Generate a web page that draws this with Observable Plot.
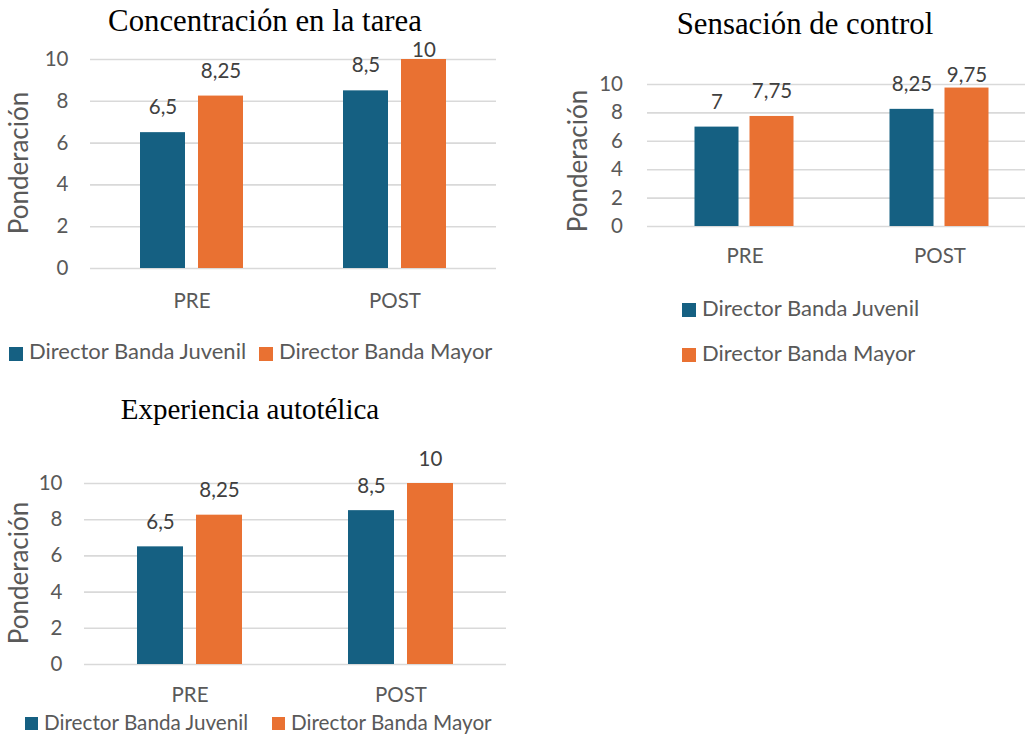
<!DOCTYPE html>
<html>
<head>
<meta charset="utf-8">
<script src="https://cdn.jsdelivr.net/npm/d3@7"></script>
<script src="https://cdn.jsdelivr.net/npm/@observablehq/plot@0.6"></script>
<style>
  html, body { margin: 0; padding: 0; background: #fff; overflow: hidden; }
  #root { position: relative; width: 1025px; height: 735px; overflow: hidden; background: #fff; }
  .t { position: absolute; white-space: nowrap; line-height: 1; }
  .sq { position: absolute; }
  .p { position: absolute; top: 0; }
  .p svg { max-width: none !important; }
</style>
</head>
<body>
<div id="root"></div>
<script>
// ---- data ----
const categories = ["PRE", "POST"];
const series = ["Director Banda Juvenil", "Director Banda Mayor"];
const seriesColors = ["#156082", "#E97132"];
const yTicks = [0, 2, 4, 6, 8, 10];
const yLabel = "Ponderación";

const titleConcentracion = "Concentración en la tarea";
const concentracionJuvenil = [6.5, 8.5];
const concentracionMayor = [8.25, 10];

const titleControl = "Sensación de control";
const controlJuvenil = [7, 8.25];
const controlMayor = [7.75, 9.75];

const titleAutotelica = "Experiencia autotélica";
const autotelicaJuvenil = [6.5, 8.5];
const autotelicaMayor = [8.25, 10];

// ---- helpers ----
const root = document.getElementById("root");
const SANS = "Lato, 'Open Sans', sans-serif";
const SERIF = "'Liberation Serif', 'DejaVu Serif', serif";
const fmt = v => String(v).replace(".", ",");

function addText(txt, x, baseline, size, family, color, anchor, k) {
  const s = document.createElement("span");
  s.className = "t";
  s.textContent = txt;
  s.style.fontSize = size + "px";
  s.style.fontFamily = family;
  s.style.color = color;
  s.style.left = x + "px";
  s.style.top = (baseline - k * size) + "px";
  if (anchor === "middle") s.style.transform = "translateX(-50%)";
  root.appendChild(s);
  return s;
}
function addRotated(txt, cx, cy, size) {
  const s = document.createElement("span");
  s.className = "t";
  s.textContent = txt;
  s.style.fontSize = size + "px";
  s.style.fontFamily = SANS;
  s.style.color = "#595959";
  s.style.left = cx + "px";
  s.style.top = cy + "px";
  s.style.transform = "translate(-50%, -50%) rotate(-90deg)";
  root.appendChild(s);
}
function addSquare(x, y, size, color) {
  const d = document.createElement("div");
  d.className = "sq";
  d.style.left = x + "px";
  d.style.top = y + "px";
  d.style.width = size + "px";
  d.style.height = size + "px";
  d.style.background = color;
  root.appendChild(d);
}

function chart(o) {
  const rows = categories.flatMap((c, i) => [
    {cat: c, ser: series[0], v: o.juv[i]},
    {cat: c, ser: series[1], v: o.may[i]}
  ]);
  const pxPerUnit = (o.height - o.marginTop - o.marginBottom) / 10;
  const svg = Plot.plot({
    width: o.width, height: o.height,
    marginLeft: o.marginLeft, marginRight: o.marginRight,
    marginTop: o.marginTop, marginBottom: o.marginBottom,
    style: {fontFamily: SANS, fontSize: "20.5px", color: "#595959", background: "transparent", overflow: "visible", maxWidth: "none"},
    fx: {domain: categories, padding: 0, axis: "bottom", label: null, tickSize: 0, tickPadding: o.xTickPad},
    x: {domain: series, paddingInner: o.pi, paddingOuter: o.po, axis: null},
    y: {domain: [0, 10], ticks: yTicks, tickSize: 0, tickPadding: o.yTickPad, label: null},
    color: {domain: series, range: seriesColors},
    marks: [
      Plot.ruleY(yTicks, {stroke: "#d9d9d9", strokeWidth: 1.6}),
      Plot.barY(rows, {fx: "cat", x: "ser", y: "v", fill: "ser", inset: 0}),
      Plot.text(rows, {
        fx: "cat", x: "ser",
        y: d => Math.min(d.v + o.labelGap / pxPerUnit, o.labelClamp),
        text: d => fmt(d.v),
        lineAnchor: "bottom", fill: "#404040", fontSize: 20.5
      })
    ]
  });
  svg.style.maxWidth = "none";
  const wrap = document.createElement("div");
  wrap.className = "p";
  wrap.style.left = o.left + "px";
  wrap.style.top = o.top + "px";
  wrap.style.width = o.width + "px";
  wrap.style.height = o.height + "px";
  wrap.appendChild(svg);
  root.appendChild(wrap);
}

// ---- chart 1: Concentración en la tarea ----
chart({juv: concentracionJuvenil, may: concentracionMayor,
  left: 0, top: 36, width: 506, height: 282,
  marginLeft: 89, marginRight: 10, marginTop: 23, marginBottom: 50,
  pi: 0.2222, po: 0.8504, yTickPad: 22, xTickPad: 24.5, labelGap: 18.5, labelClamp: 10.1});
addText(titleConcentracion, 265, 32, 30.8, SERIF, "#000", "middle", 0.8375);
addRotated(yLabel, 18, 163, 26);
addSquare(9, 347, 14, seriesColors[0]);
addText(series[0], 29, 359.5, 22, SANS, "#595959", "start", 0.887);
addSquare(259, 347, 14, seriesColors[1]);
addText(series[1], 279, 359.5, 22, SANS, "#595959", "start", 0.887);

// ---- chart 2: Sensación de control ----
chart({juv: controlJuvenil, may: controlMayor,
  left: 540, top: 60, width: 496.5, height: 216,
  marginLeft: 106.5, marginRight: 0, marginTop: 24, marginBottom: 50,
  pi: 0.198, po: 0.856, yTickPad: 24.5, xTickPad: 22.4, labelGap: 18, labelClamp: 10.16});
addText(titleControl, 805, 35, 30.8, SERIF, "#000", "middle", 0.8375);
addRotated(yLabel, 577, 161, 26);
addSquare(682, 303, 14, seriesColors[0]);
addText(series[0], 702, 317, 22, SANS, "#595959", "start", 0.887);
addSquare(682, 348, 14, seriesColors[1]);
addText(series[1], 702, 362, 22, SANS, "#595959", "start", 0.887);

// ---- chart 3: Experiencia autotélica ----
chart({juv: autotelicaJuvenil, may: autotelicaMayor,
  left: 0, top: 440, width: 516, height: 268,
  marginLeft: 84, marginRight: 10, marginTop: 43, marginBottom: 44,
  pi: 0.2167, po: 0.8667, yTickPad: 22, xTickPad: 23.4, labelGap: 18, labelClamp: 12});
addText(titleAutotelica, 250, 419, 29, SERIF, "#000", "middle", 0.8375);
addRotated(yLabel, 18, 573, 26);
addSquare(25, 717, 13, seriesColors[0]);
addText(series[0], 44, 730, 20.7, SANS, "#595959", "start", 0.887);
addSquare(272, 717, 13, seriesColors[1]);
addText(series[1], 291, 730, 20.7, SANS, "#595959", "start", 0.887);
</script>
</body>
</html>
